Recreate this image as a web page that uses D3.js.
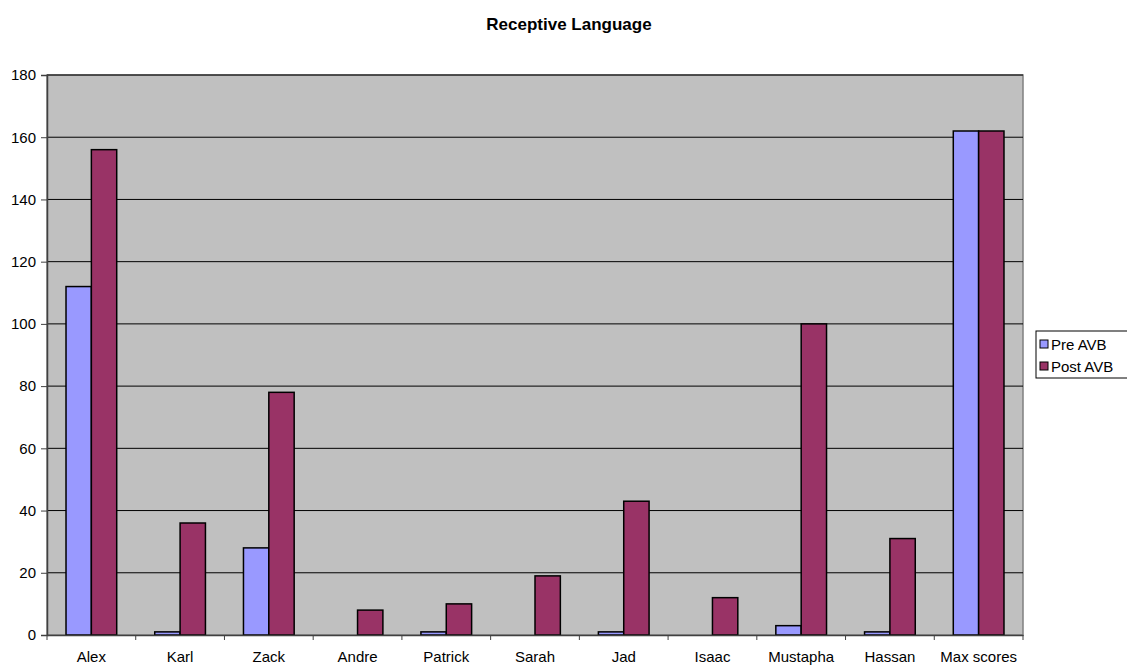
<!DOCTYPE html>
<html>
<head>
<meta charset="utf-8">
<script src="https://cdn.jsdelivr.net/npm/d3@7"></script>
<style>
  body { margin: 0; background: #fff; }
  text { font-family: "Liberation Sans", Arial, sans-serif; }
</style>
</head>
<body>
<svg width="1127" height="669"></svg>
<script>

let names = ['Alex', 'Karl', 'Zack', 'Andre', 'Patrick', 'Sarah', 'Jad', 'Isaac', 'Mustapha', 'Hassan', 'Max scores']
let preAVB = [112, 1, 28, 0, 1, 0, 1, 0, 3, 1, 162]
let postAVB = [156, 36, 78, 8, 10, 19, 43, 12, 100, 31, 162]
let seriesNames = ['Pre AVB', 'Post AVB']
let yTicks = [0, 20, 40, 60, 80, 100, 120, 140, 160, 180]

let colors = ['#9999ff', '#993366']

let svg = d3.select('svg')
let plotLeft = 47, plotRight = 1023, plotTop = 75, plotBottom = 635

let x = d3.scaleBand().domain(names).range([plotLeft, plotRight])
let y = d3.scaleLinear().domain([0, 180]).range([plotBottom, plotTop])

// plot background
svg.append('rect')
  .attr('x', plotLeft).attr('y', plotTop)
  .attr('width', plotRight - plotLeft).attr('height', plotBottom - plotTop)
  .attr('fill', '#c0c0c0')
  .attr('stroke', '#808080').attr('stroke-width', 1.5)

// gridlines
svg.append('g')
  .selectAll('line')
  .data(yTicks.filter(d => d > 0))
  .enter().append('line')
  .attr('x1', plotLeft).attr('x2', plotRight)
  .attr('y1', d => y(d)).attr('y2', d => y(d))
  .attr('stroke', '#000').attr('stroke-width', 1)

// bars
let barW = x.bandwidth() / 3.5
let groups = svg.append('g')
  .selectAll('g')
  .data(names)
  .enter().append('g')

let allSeries = [preAVB, postAVB]
allSeries.forEach((vals, s) => {
  groups.append('rect')
    .attr('x', (d, i) => x(d) + x.bandwidth() / 2 - barW + s * barW)
    .attr('y', (d, i) => y(vals[i]))
    .attr('width', barW)
    .attr('height', (d, i) => plotBottom - y(vals[i]))
    .attr('fill', colors[s])
    .attr('stroke', '#000')
    .attr('stroke-width', 1.5)
    .style('display', (d, i) => vals[i] === 0 ? 'none' : null)
})

// y axis
let yAxis = svg.append('g')
  .attr('transform', `translate(${plotLeft},0)`)
  .call(d3.axisLeft(y).tickValues(yTicks).tickSize(6).tickPadding(5))
yAxis.select('.domain').attr('stroke', '#404040').attr('stroke-width', 1.5)
yAxis.selectAll('.tick line').attr('stroke', '#404040')
yAxis.selectAll('text').attr('font-size', 15).attr('fill', '#000')
  .style('font-family', '"Liberation Sans", Arial, sans-serif')

// x axis
let xAxis = svg.append('g')
  .attr('transform', `translate(0,${plotBottom})`)
  .call(d3.axisBottom(x).tickSize(0).tickPadding(16))
xAxis.select('.domain').attr('stroke', '#404040').attr('stroke-width', 1.5)
xAxis.selectAll('text').attr('font-size', 15).attr('fill', '#000')
  .style('font-family', '"Liberation Sans", Arial, sans-serif')

// category boundary ticks
svg.append('g')
  .selectAll('line')
  .data(names.concat(['end']))
  .enter().append('line')
  .attr('x1', (d, i) => plotLeft + i * x.step())
  .attr('x2', (d, i) => plotLeft + i * x.step())
  .attr('y1', plotBottom).attr('y2', plotBottom + 5)
  .attr('stroke', '#404040').attr('stroke-width', 1)

// title
svg.append('text')
  .attr('x', 569).attr('y', 30)
  .attr('text-anchor', 'middle')
  .attr('font-size', 17).attr('font-weight', 'bold')
  .text('Receptive Language')

// legend
let legend = svg.append('g')
legend.append('rect')
  .attr('x', 1036).attr('y', 331)
  .attr('width', 95).attr('height', 47)
  .attr('fill', '#fff').attr('stroke', '#000').attr('stroke-width', 1)

seriesNames.forEach((n, i) => {
  legend.append('rect')
    .attr('x', 1040).attr('y', 340 + i * 22)
    .attr('width', 8).attr('height', 8)
    .attr('fill', colors[i]).attr('stroke', '#000').attr('stroke-width', 1)
  legend.append('text')
    .attr('x', 1051).attr('y', 349.5 + i * 22)
    .attr('font-size', 15)
    .text(n)
})

</script>
</body>
</html>
